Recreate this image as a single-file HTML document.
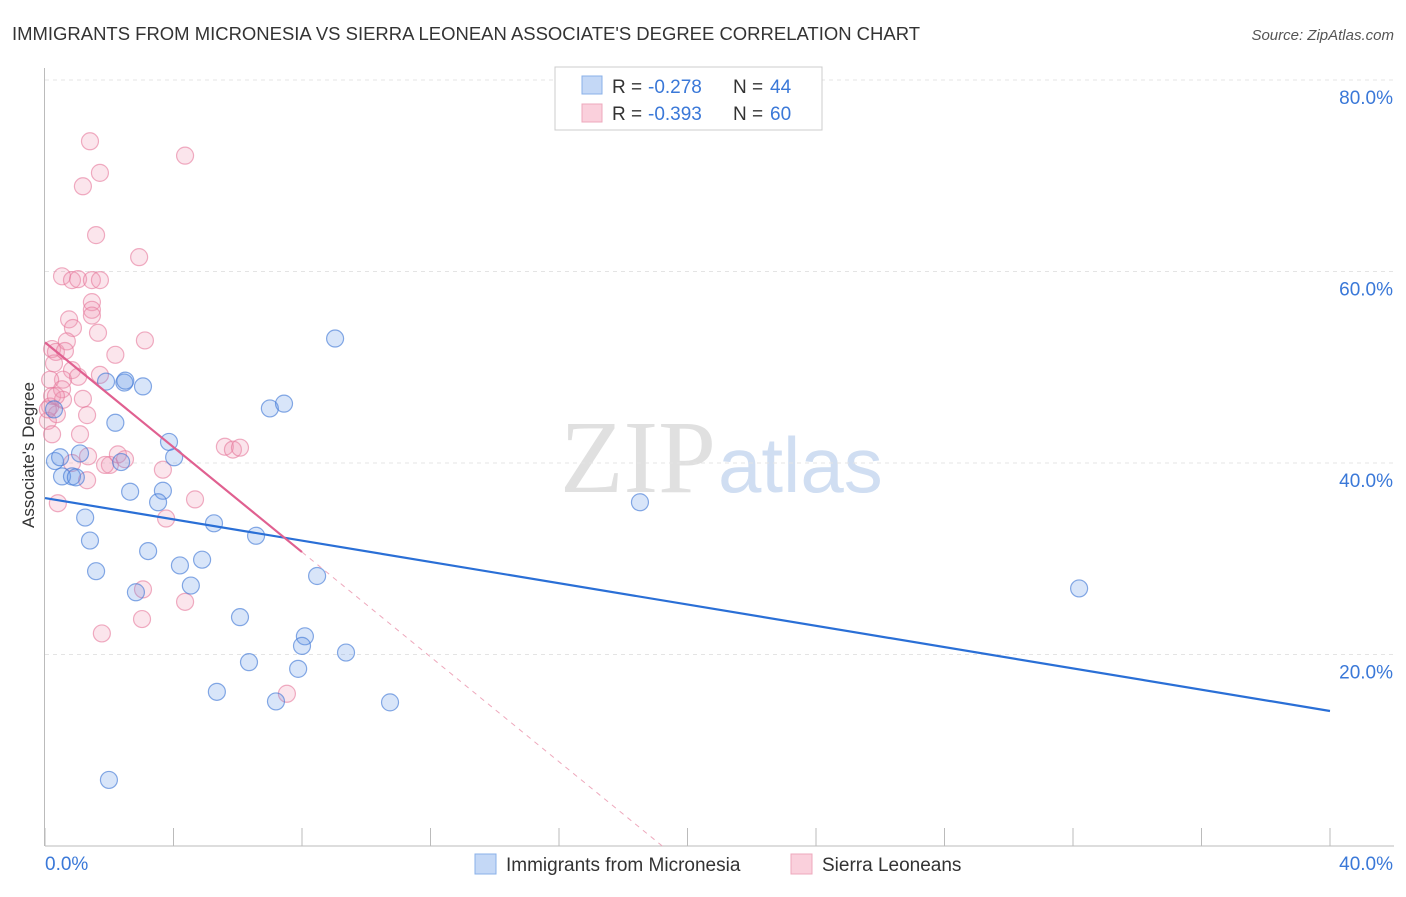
<!DOCTYPE html>
<html><head><meta charset="utf-8"><style>
body{margin:0;background:#fff;font-family:"Liberation Sans",sans-serif}
</style></head><body>
<svg id="chart" width="1406" height="892" xmlns="http://www.w3.org/2000/svg" font-family="Liberation Sans, sans-serif">
<text x="12" y="40" font-size="18" fill="#333" textLength="908" lengthAdjust="spacingAndGlyphs">IMMIGRANTS FROM MICRONESIA VS SIERRA LEONEAN ASSOCIATE'S DEGREE CORRELATION CHART</text>
<text x="1394" y="40" font-size="15" fill="#555" text-anchor="end" font-style="italic">Source: ZipAtlas.com</text>
<text x="716" y="492" font-size="104" text-anchor="end" fill="#e0e0e0" font-family="Liberation Serif, serif">ZIP</text>
<text x="718" y="492" font-size="78" fill="#d0def2">atlas</text>
<g id="grid"></g>
<g id="axes"></g>
<g id="marks"></g>
<text transform="translate(34,455) rotate(-90)" font-size="17" fill="#333" text-anchor="middle">Associate's Degree</text>
<g>
<rect x="555" y="67" width="267" height="63" fill="#fff" stroke="#ccc"/>
<rect x="582" y="76" width="20" height="18" fill="#c4d8f6" stroke="#8ab0e8"/>
<text x="612" y="93" font-size="19" fill="#333">R = </text><text x="648" y="93" font-size="19" fill="#3a78d8">-0.278</text>
<text x="733" y="93" font-size="19" fill="#333">N = </text><text x="770" y="93" font-size="19" fill="#3a78d8">44</text>
<rect x="582" y="104" width="20" height="18" fill="#fad0dc" stroke="#eea8bc"/>
<text x="612" y="120" font-size="19" fill="#333">R = </text><text x="648" y="120" font-size="19" fill="#3a78d8">-0.393</text>
<text x="733" y="120" font-size="19" fill="#333">N = </text><text x="770" y="120" font-size="19" fill="#3a78d8">60</text>
</g>
<g>
<rect x="475" y="854" width="21" height="20" fill="#c4d8f6" stroke="#8ab0e8"/>
<text x="506" y="871" font-size="19" fill="#333">Immigrants from Micronesia</text>
<rect x="791" y="854" width="21" height="20" fill="#fad0dc" stroke="#eea8bc"/>
<text x="822" y="871" font-size="19" fill="#333">Sierra Leoneans</text>
</g>
</svg>
<script>
const yTicks=[20,40,60,80];
const yTickLabels=["20.0%","40.0%","60.0%","80.0%"];
const xTicks=[0,4,8,12,16,20,24,28,32,36,40];
const blueX=[9.03,2.47,1.90,2.50,3.05,2.19,3.86,4.02,7.00,7.44,0.31,0.47,1.09,0.53,0.84,0.96,2.37,2.65,3.67,3.52,1.25,1.40,5.26,6.57,3.21,1.59,4.20,4.89,4.54,2.83,8.47,18.52,32.19,6.07,8.09,8.00,9.37,6.35,7.88,5.35,7.19,10.74,1.99,0.28];
const blueY=[53.0,48.4,48.5,48.6,48.0,44.2,42.2,40.6,45.7,46.2,40.2,40.6,41.0,38.6,38.6,38.5,40.1,37.0,37.1,35.9,34.3,31.9,33.7,32.4,30.8,28.7,29.3,29.9,27.2,26.5,28.2,35.9,26.9,23.9,21.9,20.9,20.2,19.2,18.5,16.1,15.1,15.0,6.9,45.6];
const pinkX=[1.40,4.36,1.71,1.18,1.59,2.93,0.53,0.84,1.03,1.46,1.71,1.46,1.46,1.46,0.75,0.87,1.65,3.11,2.19,0.22,0.34,0.68,0.62,0.28,0.84,0.56,0.16,1.03,0.22,0.16,0.09,0.37,1.18,0.53,1.31,1.09,1.34,2.02,1.87,2.27,2.49,4.67,3.67,5.60,5.85,6.07,0.40,1.31,3.77,4.36,3.05,3.02,1.77,7.53,0.22,0.84,0.56,1.71,0.09,0.34];
const pinkY=[73.6,72.1,70.3,68.9,63.8,61.5,59.5,59.1,59.2,59.1,59.1,56.8,56.0,55.4,55.0,54.1,53.6,52.8,51.3,51.9,51.6,52.7,51.7,50.4,49.7,48.7,48.7,49.0,47.0,45.9,44.4,45.1,46.7,47.7,45.0,43.0,40.7,39.8,39.8,40.9,40.4,36.2,39.3,41.7,41.4,41.6,35.8,38.2,34.2,25.5,26.8,23.7,22.2,15.9,43.0,40.0,46.6,49.2,45.6,47.0];
const blueLine=[36.34,14.1];
const pinkLine=[52.6,30.7,8];
const NS="http://www.w3.org/2000/svg";
const X=v=>45+v/40*1285, Y=v=>846-v*9.575;
function mk(t,a,p){const e=document.createElementNS(NS,t);for(const k in a)e.setAttribute(k,a[k]);document.getElementById(p).appendChild(e);return e;}
yTicks.forEach((t,i)=>{
 const l=mk('line',{x1:45,x2:1394,y1:Y(t),y2:Y(t),stroke:'#e4e4e4','stroke-dasharray':'4,4'},'grid');
 
 
 const tx=mk('text',{x:1393,y:Y(t)+24,'font-size':19,fill:'#3a78d8','text-anchor':'end'},'axes');
 tx.textContent=yTickLabels[i];
 
 
});
const ax=mk('line',{x1:44.5,x2:44.5,y1:68,y2:846,stroke:'#bbb'},'axes');


const bx=mk('line',{x1:45,x2:1394,y1:846,y2:846,stroke:'#bbb'},'axes');


xTicks.forEach(t=>{const l=mk('line',{x1:X(t),x2:X(t),y1:828,y2:846,stroke:'#bbb'},'axes');
 
 });
const x0=mk('text',{x:45,y:870,'font-size':19,fill:'#3a78d8'},'axes');x0.textContent='0.0%';


const x1=mk('text',{x:1393,y:870,'font-size':19,fill:'#3a78d8','text-anchor':'end'},'axes');x1.textContent='40.0%';


pinkX.forEach((v,i)=>{const c=mk('circle',{cx:X(v),cy:Y(pinkY[i]),r:8.5,fill:'rgba(240,150,180,0.25)',stroke:'rgba(230,120,155,0.6)','stroke-width':1.2},'marks');
 
 });
blueX.forEach((v,i)=>{const c=mk('circle',{cx:X(v),cy:Y(blueY[i]),r:8.5,fill:'rgba(100,150,230,0.25)',stroke:'rgba(70,125,215,0.65)','stroke-width':1.2},'marks');
 
 });
const bl=mk('line',{x1:X(0),y1:Y(blueLine[0]),x2:X(40),y2:Y(blueLine[1]),stroke:'#2a6fd6','stroke-width':2.2},'marks');


const slope=(pinkLine[1]-pinkLine[0])/pinkLine[2];const xz=-pinkLine[0]/slope;
const pl=mk('line',{x1:X(0),y1:Y(pinkLine[0]),x2:X(pinkLine[2]),y2:Y(pinkLine[1]),stroke:'#e06090','stroke-width':2.2},'marks');


const pd=mk('line',{x1:X(pinkLine[2]),y1:Y(pinkLine[1]),x2:X(xz),y2:Y(0),stroke:'#eea8bc','stroke-width':1,'stroke-dasharray':'5,5'},'marks');


</script>
</body></html>
